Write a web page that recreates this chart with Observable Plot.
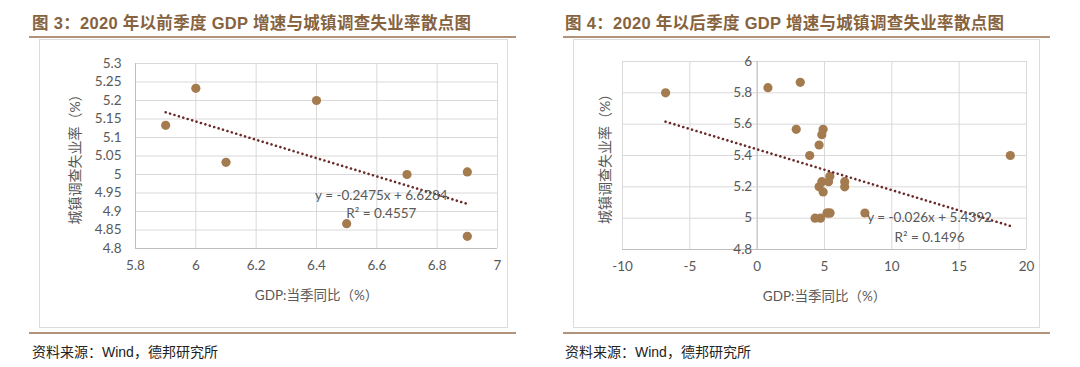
<!DOCTYPE html>
<html><head><meta charset="utf-8">
<script src="https://cdn.jsdelivr.net/npm/d3@7"></script>
<script src="https://cdn.jsdelivr.net/npm/@observablehq/plot@0.6"></script>
<style>
body{margin:0;width:1080px;height:367px;background:#fff;position:relative;overflow:hidden;font-family:"Liberation Sans","Noto Sans CJK SC",sans-serif;}
.title{position:absolute;top:10px;font-weight:bold;font-size:16.5px;color:#86633e;white-space:nowrap;letter-spacing:0.3px;}
.rule{position:absolute;height:2px;background:#b0937a;}
.box{position:absolute;border:1px solid #dcdcdc;box-sizing:border-box;}
.src{position:absolute;top:341px;font-size:14px;color:#222;white-space:nowrap;font-family:"Liberation Sans","Noto Sans CJK SC",sans-serif;}
.chart{position:absolute;}
</style></head><body>
<div class="title" style="left:32px">图 3：2020 年以前季度 GDP 增速与城镇调查失业率散点图</div>
<div class="rule" style="left:29px;width:487px;top:36px"></div>
<div class="box" style="left:39px;top:39px;width:469px;height:289px"></div>
<div class="rule" style="left:29px;width:487px;top:332px"></div>
<div class="src" style="left:32px">资料来源：Wind，德邦研究所</div>

<div class="title" style="left:565px">图 4：2020 年以后季度 GDP 增速与城镇调查失业率散点图</div>
<div class="rule" style="left:563px;width:487px;top:36px"></div>
<div class="box" style="left:573px;top:39px;width:467px;height:289px"></div>
<div class="rule" style="left:563px;width:487px;top:332px"></div>
<div class="src" style="left:565px">资料来源：Wind，德邦研究所</div>

<div class="chart" id="c1" style="left:40px;top:41px"></div>
<div class="chart" id="c2" style="left:574px;top:41px"></div>
<script>
// ---- Data: chart 1 (before 2020) ----
const gdpBefore = [5.9, 6.0, 6.1, 6.4, 6.5, 6.7, 6.9, 6.9];
const unempBefore = [5.133, 5.233, 5.033, 5.2, 4.867, 5.0, 5.007, 4.833];
const xTicksBefore = [5.8, 6, 6.2, 6.4, 6.6, 6.8, 7];
const yTicksBefore = [4.8, 4.85, 4.9, 4.95, 5, 5.05, 5.1, 5.15, 5.2, 5.25, 5.3];
const trendBefore = [-0.2475, 6.6284];
const eqBefore = ["y = -0.2475x + 6.6284", "R² = 0.4557"];

// ---- Data: chart 2 (after 2020) ----
const gdpAfter = [-6.8, 3.2, 4.9, 6.5, 18.8, 8.0, 5.2, 4.3, 4.8, 0.8, 3.9, 2.9, 4.6, 6.5, 4.9, 5.4, 5.3, 4.7, 4.6, 5.4, 5.4, 5.2, 4.8];
const unempAfter = [5.8, 5.867, 5.567, 5.233, 5.4, 5.033, 5.033, 5.0, 5.533, 5.833, 5.4, 5.567, 5.467, 5.2, 5.167, 5.033, 5.233, 5.0, 5.2, 5.033, 5.267, 5.033, 5.233];
const xTicksAfter = [-10, -5, 0, 5, 10, 15, 20];
const yTicksAfter = [4.8, 5, 5.2, 5.4, 5.6, 5.8, 6];
const trendAfter = [-0.026, 5.4392];
const eqAfter = ["y = -0.026x + 5.4392", "R² = 0.1496"];

const xLabel = "GDP:当季同比（%）";
const yLabel = "城镇调查失业率（%）";

const GRID = "#d9d9d9", AXIS = "#bfbfbf", TXT = "#595959", DOT = "#a47b4f", TREND = "#6b2a2a";
const fmt = d => String(d);

function panel(o) {
  const pts = o.gdp.map((x, i) => ({x, y: o.unemp[i]}));
  const ext = d3.extent(o.gdp);
  const trend = ext.map(x => ({x, y: o.coef[0] * x + o.coef[1]}));
  const marks = [
    Plot.gridX(o.xTicks, {stroke: GRID, strokeOpacity: 1}),
    Plot.gridY(o.yTicks, {stroke: GRID, strokeOpacity: 1}),
    Plot.ruleX([o.axisX], {stroke: AXIS}),
    Plot.ruleY([o.yDomain[0]], {stroke: AXIS}),
    Plot.axisX(o.xTicks, {tickSize: 0, tickPadding: 12, tickFormat: fmt, label: null, fill: TXT}),
    Plot.text([xLabel], {frameAnchor: "bottom", dy: o.xLabelDy, text: d => d, fill: TXT, fontSize: 13.5, lineAnchor: "middle", textAnchor: "middle"}),
    Plot.text([yLabel], {frameAnchor: "left", dx: o.yLabelDx, rotate: -90, text: d => d, fill: TXT, fontSize: 14, textAnchor: "middle", lineAnchor: "middle"}),
    Plot.dot(pts, {x: "x", y: "y", r: 4.6, fill: DOT, stroke: "none"}),
    Plot.line(trend, {x: "x", y: "y", stroke: TREND, strokeWidth: 2.6, strokeDasharray: "0.01 4.6", strokeLinecap: "round"}),
    Plot.text(o.eq, {x: () => o.eqX, y: (d, i) => o.eqY[i], text: d => d, fill: TXT, fontSize: 13.5, textAnchor: "middle"})
  ];
  if (o.axisX === o.xDomain[0]) {
    marks.push(Plot.axisY(o.yTicks, {tickSize: 0, tickPadding: 14, tickFormat: fmt, label: null, fill: TXT}));
  } else {
    marks.push(Plot.text(o.yTicks, {x: () => o.axisX, y: d => d, text: fmt, dx: -5, textAnchor: "end", fill: TXT}));
  }
  return Plot.plot({
    width: o.width, height: o.height,
    marginLeft: o.m[0], marginRight: o.m[1], marginTop: o.m[2], marginBottom: o.m[3],
    style: {fontFamily: "Lato, 'Noto Sans CJK SC', sans-serif", fontSize: "13.5px", color: TXT, background: "transparent"},
    x: {domain: o.xDomain, axis: null},
    y: {domain: o.yDomain, axis: null},
    marks
  });
}

document.getElementById("c1").append(panel({
  gdp: gdpBefore, unemp: unempBefore, xTicks: xTicksBefore, yTicks: yTicksBefore,
  xDomain: [5.8, 7], yDomain: [4.8, 5.3], axisX: 5.8, coef: trendBefore, eq: eqBefore,
  eqX: 6.615, eqY: [4.943, 4.895],
  width: 466, height: 285, m: [95, 9, 22, 78], xLabelDy: 47, yLabelDx: -60
}));
document.getElementById("c2").append(panel({
  gdp: gdpAfter, unemp: unempAfter, xTicks: xTicksAfter, yTicks: yTicksAfter,
  xDomain: [-10, 20], yDomain: [4.8, 6], axisX: 0, coef: trendAfter, eq: eqAfter,
  eqX: 12.8, eqY: [5.0, 4.878],
  width: 464, height: 285, m: [48, 12, 20, 77], xLabelDy: 47, yLabelDx: -17
}));
</script>
</body></html>
